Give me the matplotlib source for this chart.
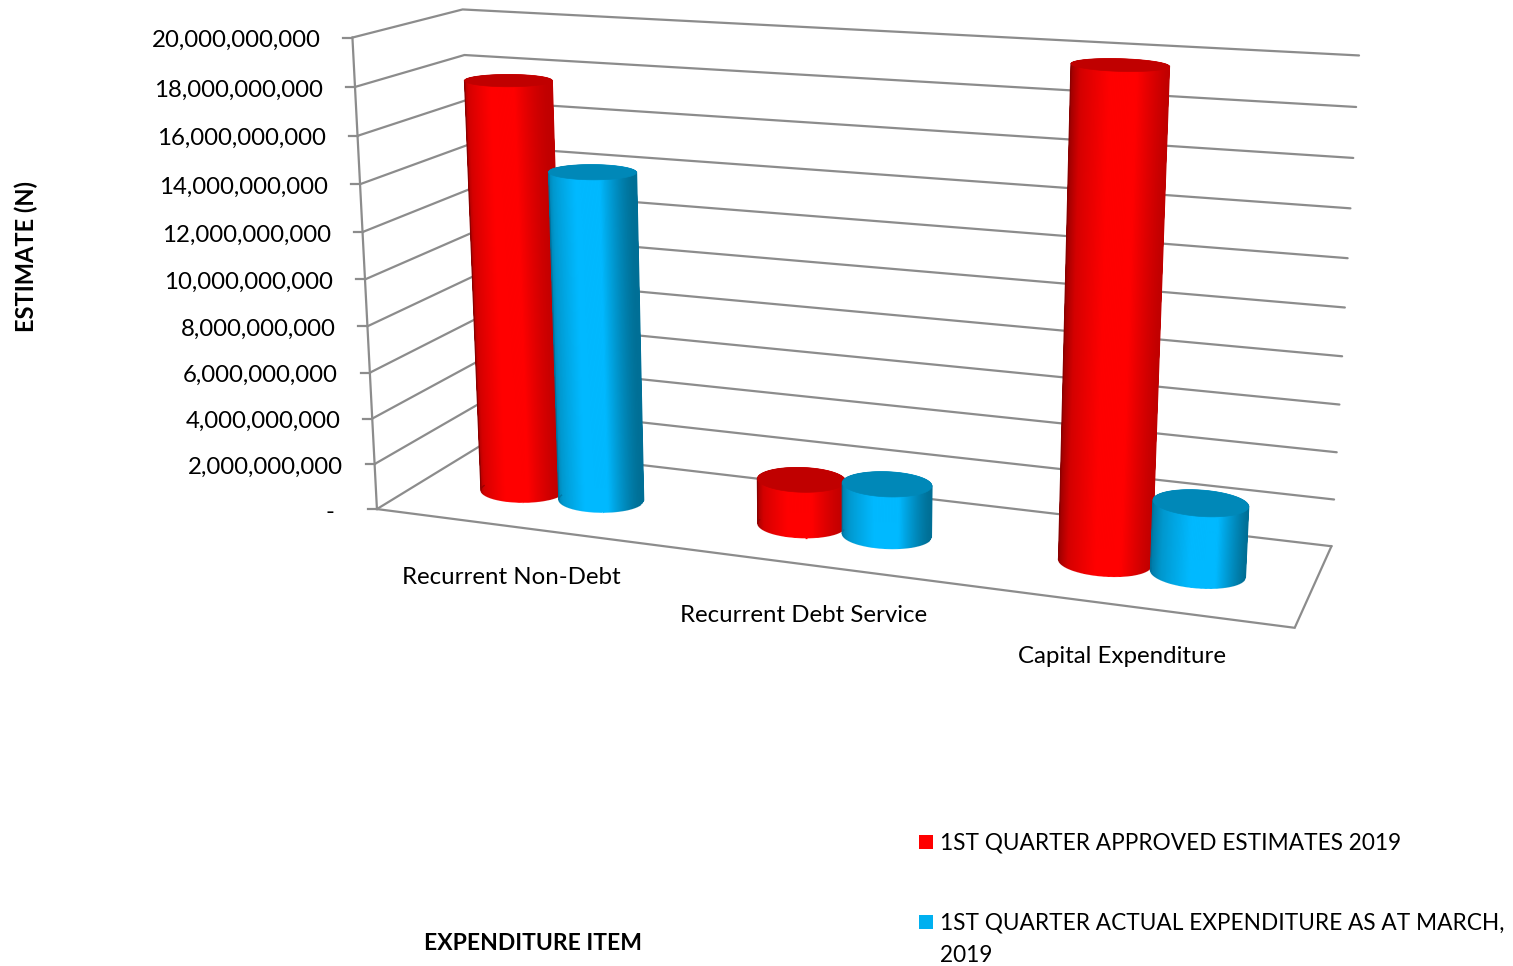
import matplotlib
matplotlib.use('Agg')
import matplotlib.pyplot as plt
from matplotlib.collections import LineCollection, PolyCollection
from matplotlib.patches import Polygon, Rectangle
import numpy as np

categories = ['Recurrent Non-Debt', 'Recurrent Debt Service', 'Capital Expenditure']
approved = [17.87e9, 1.96e9, 19.9e9]
actual = [14.27e9, 2.2e9, 2.92e9]
series_names = ['1ST QUARTER APPROVED ESTIMATES 2019',
                '1ST QUARTER ACTUAL EXPENDITURE AS AT MARCH,\n2019']
y_ticks = [0, 2000000000, 4000000000, 6000000000, 8000000000, 10000000000,
           12000000000, 14000000000, 16000000000, 18000000000, 20000000000]
y_max = 20000000000

plt.rcParams['font.family'] = ['Lato', 'DejaVu Sans']

GRID = '#8C8C8C'
RED_STOPS = ['#8A0000', '#D40000', '#FF0000', '#FF0000', '#C00000']
BLUE_STOPS = ['#00709A', '#0098CE', '#00B9FF', '#00B9FF', '#006F96']
SHADE_POS = [0.0, 0.18, 0.5, 0.75, 1.0]

# box corners (u, v, w) and where they land on the canvas
corners = [((0, 0, 0), (377, 508)), ((1, 0, 0), (1293, 628)),
           ((1, 1, 0), (1333, 546)), ((0, 1, 0), (480, 447)),
           ((0, 0, 1), (352, 38)), ((0, 1, 1), (463, 9)),
           ((1, 1, 1), (1357, 55)), ((1, 0, 1), (1325, 93))]


def fit_camera(pairs):
    rows = []
    for (u, v, w), (x, y) in pairs:
        rows.append([u, v, w, 1, 0, 0, 0, 0, -x*u, -x*v, -x*w, -x])
        rows.append([0, 0, 0, 0, u, v, w, 1, -y*u, -y*v, -y*w, -y])
    return np.linalg.svd(np.array(rows, float))[2][-1].reshape(3, 4)


P = fit_camera(corners)


def project(u, v, w):
    u, v, w = np.broadcast_arrays(u, v, w)
    pts = P @ np.vstack([u.ravel(), v.ravel(), w.ravel(), np.ones(u.size)])
    return np.column_stack([pts[0] / pts[2], pts[1] / pts[2]])


def shade(stops, s):
    rgb = np.array([matplotlib.colors.to_rgb(c) for c in stops])
    return np.column_stack([np.interp(s, SHADE_POS, rgb[:, i]) for i in range(3)])


def hull(points):
    # monotone chain, used for the outline of a barrel
    pts = sorted(map(tuple, points))

    def half(seq):
        out = []
        for p in seq:
            while len(out) > 1 and ((out[-1][0]-out[-2][0])*(p[1]-out[-2][1])
                                    - (out[-1][1]-out[-2][1])*(p[0]-out[-2][0])) <= 0:
                out.pop()
            out.append(p)
        return out[:-1]
    return np.array(half(pts) + half(pts[::-1]))


def cylinder(ax, uc, vc, value, stops, top_color, ru=0.048, rv=0.17, n=240):
    w = value / y_max
    theta = np.linspace(0, 2*np.pi, n + 1)
    us = uc + ru*np.cos(theta)
    vs = vc + rv*np.sin(theta)
    base = project(us, vs, 0)
    top = project(us, vs, w)
    mid = (theta[:-1] + theta[1:]) / 2
    # back facets first so the front of the barrel covers them
    order = np.argsort(-np.sin(mid))
    quads = [np.array([base[i], base[i+1], top[i+1], top[i]]) for i in order]
    cols = shade(stops, (np.cos(mid[order]) + 1) / 2)
    outline = Polygon(hull(np.vstack([base, top])), closed=True, facecolor='none',
                      edgecolor='none', zorder=3)
    ax.add_patch(outline)
    barrel = PolyCollection(quads, facecolors=cols, edgecolors=cols, linewidths=0.8, zorder=3)
    barrel.set_snap(False)
    ax.add_collection(barrel)
    barrel.set_clip_path(outline)

    # smooth the clipped rim with thin lines along both sides and the lower curve
    i_left = np.argmin(base[:, 0])
    i_right = np.argmax(base[:, 0])
    ax.plot([base[i_left, 0], top[i_left, 0]], [base[i_left, 1], top[i_left, 1]],
            color=stops[0], lw=0.9, zorder=3)
    ax.plot([base[i_right, 0], top[i_right, 0]], [base[i_right, 1], top[i_right, 1]],
            color=stops[-1], lw=0.9, zorder=3)
    front = np.sin(mid) < 0
    rim = [np.array([base[i], base[i+1]]) for i in np.nonzero(front)[0]]
    rim_cols = shade(stops, (np.cos(mid[front]) + 1) / 2)
    ax.add_collection(LineCollection(rim, colors=rim_cols, linewidths=0.9, zorder=3))

    ax.add_patch(Polygon(top, closed=True, facecolor=top_color, edgecolor=top_color, linewidth=0.5, zorder=3))


fig = plt.figure(figsize=(15.13, 9.66), dpi=100)
ax = fig.add_axes([0, 0, 1, 1])
ax.set_xlim(0, 1513)
ax.set_ylim(966, 0)
ax.axis('off')

# gridlines on the back and side walls, plus ticks on the front edge
for t in y_ticks:
    w = t / y_max
    wall = project([0, 0, 1], [0, 1, 1], w)
    ax.plot(wall[:, 0], wall[:, 1], color=GRID, lw=1.6, zorder=1, solid_capstyle='round')
    x0, y0 = wall[0]
    ax.plot([x0 - 9, x0], [y0, y0], color=GRID, lw=1.6, zorder=1)
    if t == 0:
        ax.text(x0 - 43, y0 + 3, '-', ha='right', va='center', fontsize=17.3, color='black')
    else:
        ax.text(x0 - 32, y0 + 3, f'{t:,}', ha='right', va='center', fontsize=17.3, color='black')

edge = project([0, 0], [0, 0], [0, 1])
ax.plot(edge[:, 0], edge[:, 1], color=GRID, lw=1.6, zorder=1)
floor = project([0, 1, 1], [0, 0, 1], 0)
ax.plot(floor[:, 0], floor[:, 1], color=GRID, lw=1.6, zorder=1, solid_joinstyle='miter')

# bars, left to right
n_cat = len(categories)
for i in range(n_cat):
    uc = (i + 0.5) / n_cat
    cylinder(ax, uc - 0.046, 0.47, approved[i], RED_STOPS, '#C00000')
    cylinder(ax, uc + 0.0505, 0.47, actual[i], BLUE_STOPS, '#0088B8')
    lab = project(uc, 0, 0)[0]
    ax.text(lab[0] - 2, lab[1] + 51, categories[i], ha='center', va='center', fontsize=17.3)

ax.text(26, 257, 'ESTIMATE (N)', rotation=90, ha='center', va='center', fontsize=17, fontweight='bold')
ax.text(533, 944, 'EXPENDITURE ITEM', ha='center', va='center', fontsize=16.5, fontweight='bold')

# legend
ax.add_patch(Rectangle((919, 835), 14, 14, facecolor='#FF0000', edgecolor='none'))
ax.add_patch(Rectangle((919, 915), 14, 14, facecolor='#00B0F0', edgecolor='none'))
ax.text(940, 843, series_names[0], ha='left', va='center', fontsize=16.3)
ax.text(940, 923, series_names[1].split('\n')[0], ha='left', va='center', fontsize=16.25)
ax.text(940, 955, series_names[1].split('\n')[1], ha='left', va='center', fontsize=16.25)

fig.savefig('out.png', dpi=100)
